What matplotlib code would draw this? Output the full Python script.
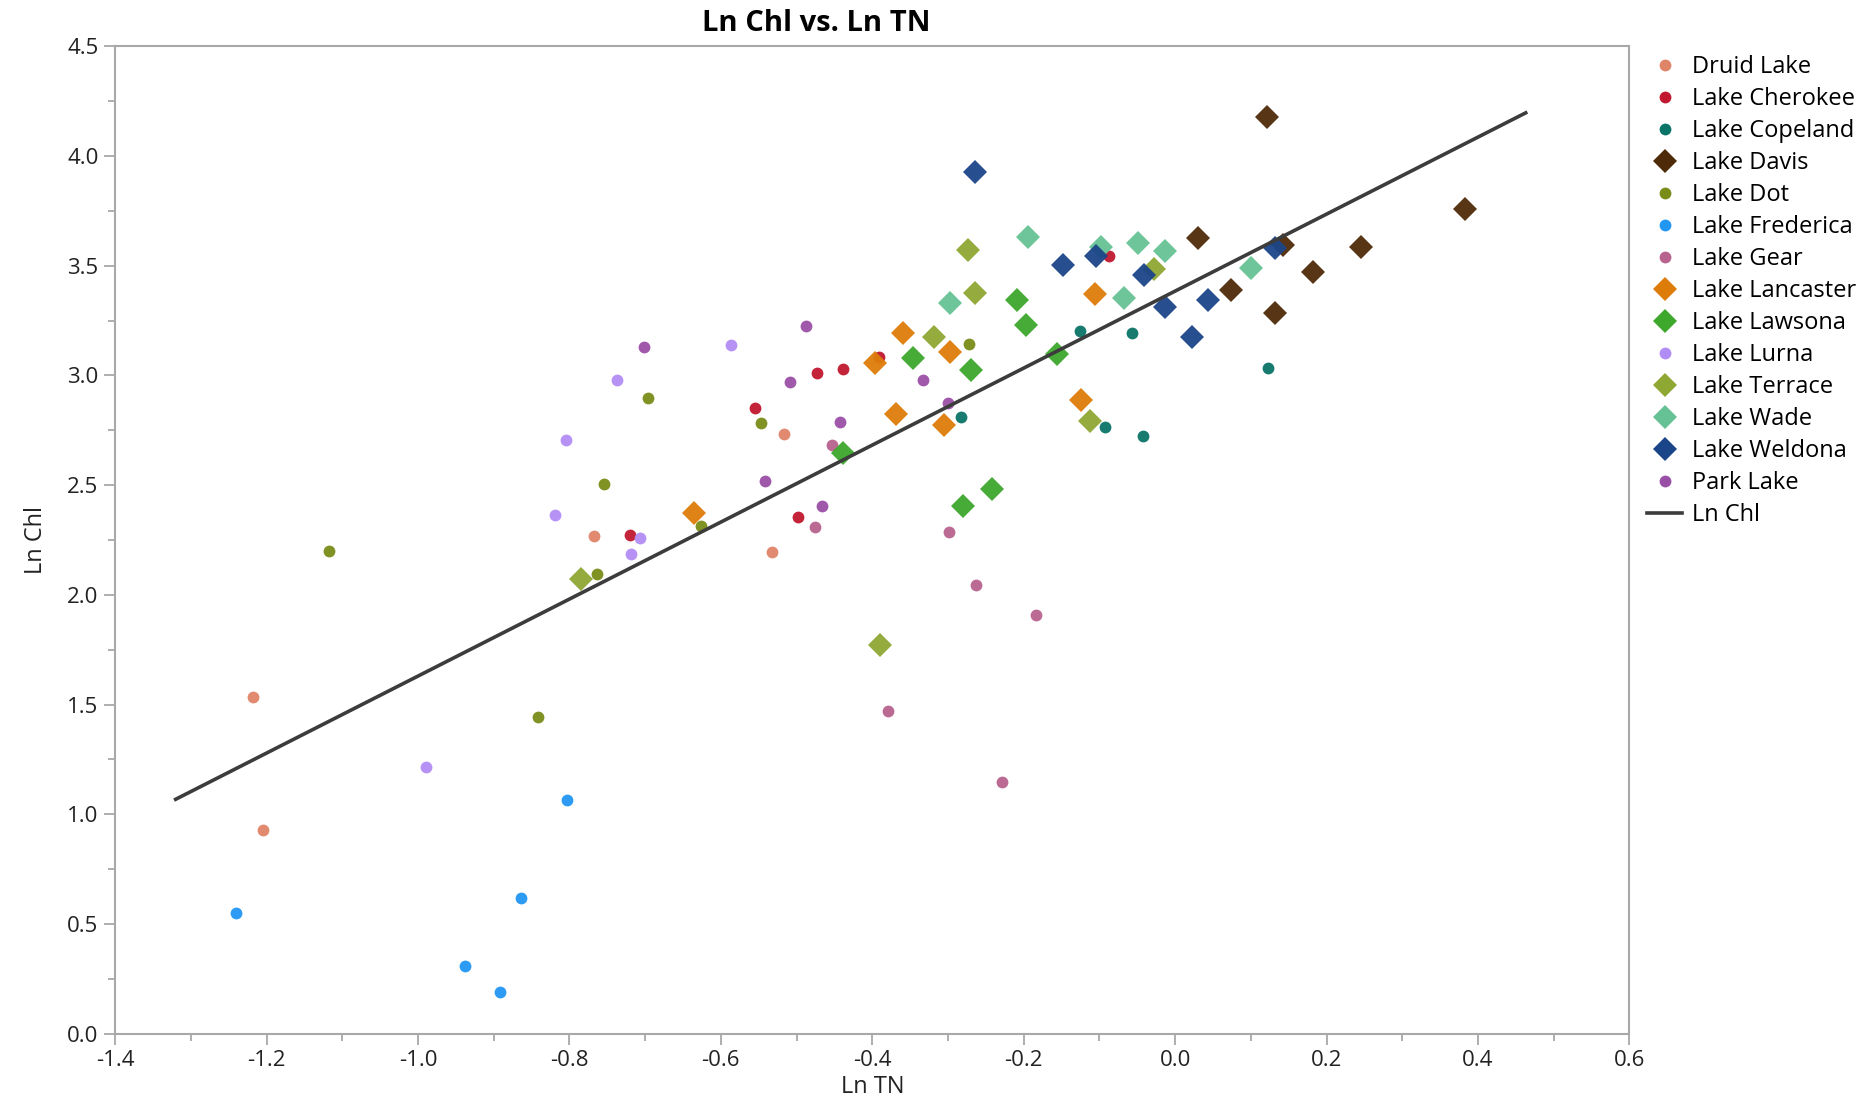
import matplotlib
matplotlib.use("Agg")
import matplotlib.pyplot as plt
from matplotlib.ticker import MultipleLocator
from matplotlib.lines import Line2D

plt.rcParams['font.family'] = ['Open Sans', 'DejaVu Sans']

# lake names, marker style and colour
lakes = ["Druid Lake", "Lake Cherokee", "Lake Copeland", "Lake Davis", "Lake Dot",
         "Lake Frederica", "Lake Gear", "Lake Lancaster", "Lake Lawsona", "Lake Lurna",
         "Lake Terrace", "Lake Wade", "Lake Weldona", "Park Lake"]
markers = ["o", "o", "o", "D", "o", "o", "o", "D", "D", "o", "D", "D", "D", "o"]
colors = ["#E08468", "#C0182E", "#0B7468", "#4E2A08", "#7A8C18", "#2196F3", "#B8628E",
          "#DE7C0A", "#3DA82C", "#B28CF5", "#8FA733", "#66C295", "#1B4589", "#9A4FA6"]

# Ln TN (x) and Ln Chl (y) per lake
druid_x = [-1.218, -1.204, -0.767, -0.533, -0.516]
druid_y = [1.534, 0.927, 2.266, 2.196, 2.733]
cherokee_x = [-0.555, -0.473, -0.439, -0.391, -0.498, -0.720, -0.088]
cherokee_y = [2.852, 3.009, 3.031, 3.085, 2.353, 2.272, 3.546]
copeland_x = [-0.126, -0.057, -0.283, -0.093, -0.043, 0.122]
copeland_y = [3.204, 3.194, 2.809, 2.765, 2.722, 3.036]
davis_x = [0.121, 0.030, 0.383, 0.246, 0.182, 0.132, 0.074, 0.143]
davis_y = [4.180, 3.627, 3.757, 3.584, 3.470, 3.286, 3.389, 3.595]
dot_x = [-1.117, -0.841, -0.754, -0.696, -0.547, -0.764, -0.626, -0.272]
dot_y = [2.201, 1.442, 2.505, 2.895, 2.782, 2.093, 2.315, 3.145]
frederica_x = [-1.240, -0.938, -0.891, -0.864, -0.803]
frederica_y = [0.548, 0.309, 0.190, 0.618, 1.063]
gear_x = [-0.453, -0.475, -0.299, -0.263, -0.184, -0.379, -0.228]
gear_y = [2.684, 2.310, 2.288, 2.044, 1.909, 1.469, 1.149]
lancaster_x = [-0.396, -0.360, -0.297, -0.106, -0.124, -0.636, -0.369, -0.305]
lancaster_y = [3.058, 3.194, 3.107, 3.372, 2.890, 2.375, 2.825, 2.776]
lawsona_x = [-0.346, -0.209, -0.197, -0.269, -0.439, -0.280, -0.242, -0.156]
lawsona_y = [3.080, 3.345, 3.232, 3.025, 2.646, 2.407, 2.483, 3.096]
lurna_x = [-0.990, -0.805, -0.819, -0.737, -0.586, -0.718, -0.707]
lurna_y = [1.215, 2.706, 2.364, 2.977, 3.139, 2.185, 2.261]
terrace_x = [-0.274, -0.264, -0.318, -0.113, -0.390, -0.784, -0.028]
terrace_y = [3.573, 3.378, 3.177, 2.792, 1.773, 2.071, 3.486]
wade_x = [-0.194, -0.098, -0.049, -0.014, -0.297, -0.068, 0.100]
wade_y = [3.633, 3.584, 3.606, 3.568, 3.329, 3.351, 3.492]
weldona_x = [-0.264, -0.148, -0.104, -0.041, 0.022, -0.014, 0.044, 0.132]
weldona_y = [3.926, 3.503, 3.546, 3.459, 3.177, 3.313, 3.345, 3.579]
park_x = [-0.702, -0.487, -0.509, -0.333, -0.443, -0.467, -0.541, -0.300]
park_y = [3.128, 3.226, 2.971, 2.977, 2.787, 2.407, 2.521, 2.874]

xs = [druid_x, cherokee_x, copeland_x, davis_x, dot_x, frederica_x, gear_x,
      lancaster_x, lawsona_x, lurna_x, terrace_x, wade_x, weldona_x, park_x]
ys = [druid_y, cherokee_y, copeland_y, davis_y, dot_y, frederica_y, gear_y,
      lancaster_y, lawsona_y, lurna_y, terrace_y, wade_y, weldona_y, park_y]

# fitted line endpoints
fit_x = [-1.32, 0.463]
fit_y = [1.068, 4.197]

fig = plt.figure(figsize=(18.65, 11.12), dpi=100)
ax = fig.add_axes([0.0617, 0.0705, 0.812, 0.8878])

handles = []
for name, m, c, x, y in zip(lakes, markers, colors, xs, ys):
    ms = 12 if m == "D" else 8.5
    ax.plot(x, y, linestyle="none", marker=m, markersize=ms, color=c,
            markeredgewidth=0, alpha=0.95)
    handles.append(Line2D([], [], linestyle="none", marker=m, markersize=ms,
                          color=c, markeredgewidth=0, label=name))

ax.plot(fit_x, fit_y, color="#3C3C3C", linewidth=2.6)
handles.append(Line2D([], [], color="#3C3C3C", linewidth=2.6, label="Ln Chl"))

ax.set_xlim(-1.4, 0.6)
ax.set_ylim(0, 4.5)
ax.xaxis.set_major_locator(MultipleLocator(0.2))
ax.xaxis.set_minor_locator(MultipleLocator(0.1))
ax.yaxis.set_major_locator(MultipleLocator(0.5))
ax.yaxis.set_minor_locator(MultipleLocator(0.25))
ax.xaxis.set_major_formatter(plt.FuncFormatter(lambda v, p: f"{v:.1f}".replace("-0.0", "0.0")))
ax.yaxis.set_major_formatter(plt.FuncFormatter(lambda v, p: f"{v:.1f}"))

for s in ax.spines.values():
    s.set_color("#A8A8A8")
    s.set_linewidth(1.5)
ax.tick_params(which="major", length=8, width=1.3, color="#A8A8A8", labelsize=16,
               labelcolor="#222222", pad=4)
ax.tick_params(which="minor", length=5, width=1.3, color="#A8A8A8")

ax.set_xlabel("Ln TN", fontsize=17, color="#222222", labelpad=3)
ax.set_ylabel("Ln Chl", fontsize=17, color="#222222", labelpad=14)
fig.text(0.4375, 0.979, "Ln Chl vs. Ln TN", ha="center", va="center",
         fontsize=21, fontweight="bold")

fig.legend(handles=handles, loc="upper left", bbox_to_anchor=(0.878, 0.959),
           frameon=False, fontsize=17, handlelength=1.5, handletextpad=0.4,
           labelspacing=0.34, borderaxespad=0)

fig.savefig("out.png", dpi=100)
